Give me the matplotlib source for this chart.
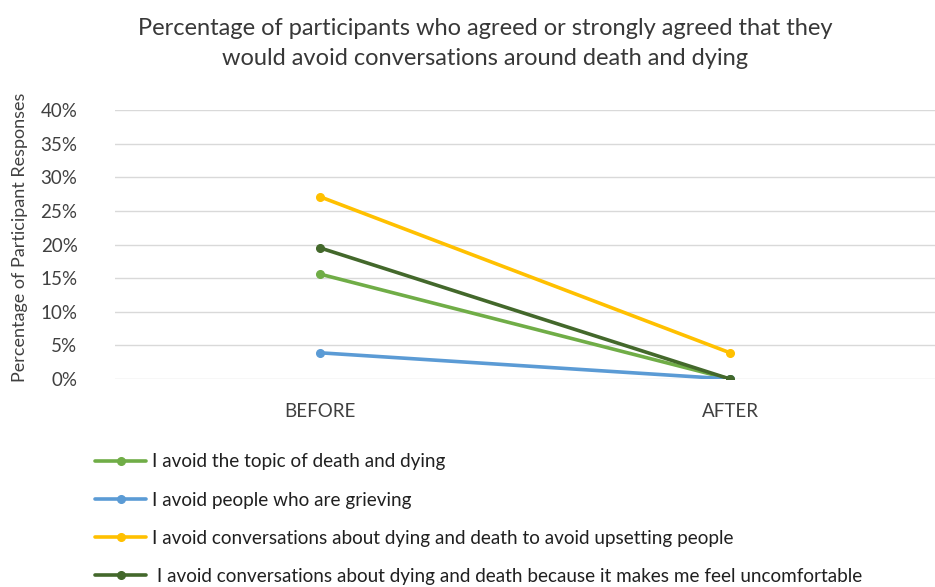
import matplotlib.pyplot as plt
from matplotlib.ticker import PercentFormatter

plt.rcParams['font.family'] = ['Lato', 'DejaVu Sans']

stages = ["BEFORE", "AFTER"]
labels = [
    "I avoid the topic of death and dying",
    "I avoid people who are grieving",
    "I avoid conversations about dying and death to avoid upsetting people",
    " I avoid conversations about dying and death because it makes me feel uncomfortable",
]
topic = [15.6, 0.0]
grieving = [3.9, 0.0]
upsetting = [27.1, 3.9]
uncomfortable = [19.5, 0.0]
colors = ["#70AD47", "#5B9BD5", "#FFC000", "#43682B"]
y_ticks = [0, 5, 10, 15, 20, 25, 30, 35, 40]

fig = plt.figure(figsize=(9.35, 5.87), dpi=100)
ax = fig.add_axes([0.123, 0.3543, 0.877, 0.4583])

handles = []
for series, color, label in zip([topic, grieving, upsetting, uncomfortable], colors, labels):
    h, = ax.plot(range(len(stages)), series, color=color, lw=2.6, marker='o',
                 markersize=5.5, label=label, solid_capstyle='round', zorder=3)
    handles.append(h)

ax.set_xlim(-0.5, 1.5)
ax.set_ylim(0, 40)
ax.set_yticks(y_ticks)
ax.yaxis.set_major_formatter(PercentFormatter(decimals=0))
ax.set_xticks(range(len(stages)))
ax.set_xticklabels(stages)
ax.tick_params(axis='both', length=0, labelsize=13.5, colors='#404040')
ax.tick_params(axis='x', pad=17)
ax.tick_params(axis='y', pad=27)
ax.yaxis.grid(True, color='#D9D9D9', lw=1)
ax.set_axisbelow(True)
for s in ax.spines.values():
    s.set_visible(False)

ax.set_ylabel("Percentage of Participant Responses", fontsize=13, color='#404040')
ax.yaxis.set_label_coords(-0.106, 0.525)

fig.text(0.519, 0.952, "Percentage of participants who agreed or strongly agreed that they",
         ha='center', va='center', fontsize=17, color='#383838')
fig.text(0.519, 0.901, "would avoid conversations around death and dying",
         ha='center', va='center', fontsize=17, color='#383838')

fig.legend(handles=handles, loc='upper left', bbox_to_anchor=(0.094, 0.2405),
           frameon=False, fontsize=13.6, labelspacing=1.12, handlelength=2.7,
           handletextpad=0.28, borderaxespad=0, labelcolor='#202020')

fig.savefig("out.png", dpi=100)
